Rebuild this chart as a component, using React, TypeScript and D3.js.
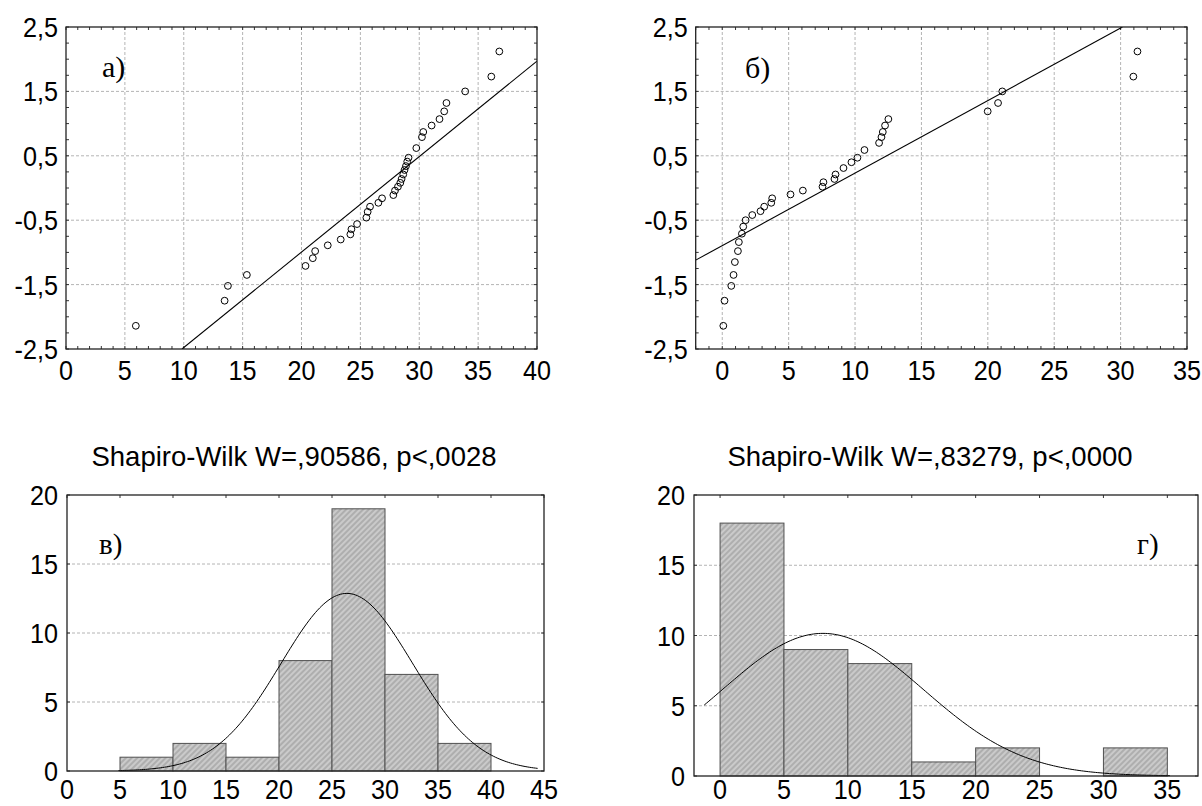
import React from 'react';
import * as d3 from 'd3';

// ---- Data: normal probability plot а) ----
const qqAValues = [5.93, 13.47, 13.75, 15.36, 20.34, 20.96, 21.16, 22.23, 23.33, 24.15, 24.24, 24.72, 25.51, 25.62, 25.82, 26.53, 26.84, 27.8, 27.94, 28.19, 28.39, 28.5, 28.64, 28.75, 28.87, 28.98, 29.09, 29.75, 30.23, 30.34, 31.05, 31.72, 32.12, 32.31, 33.9, 36.12, 36.8];
const qqAScores = [-2.14, -1.75, -1.52, -1.35, -1.21, -1.09, -0.98, -0.89, -0.8, -0.72, -0.64, -0.56, -0.46, -0.37, -0.29, -0.23, -0.16, -0.11, -0.04, 0.02, 0.08, 0.14, 0.21, 0.28, 0.34, 0.41, 0.47, 0.62, 0.79, 0.87, 0.97, 1.07, 1.19, 1.32, 1.5, 1.73, 2.12];
const qqALine = [[9.85, -2.5], [40, 1.97]];

// ---- Data: normal probability plot б) ----
const qqBValues = [0.08, 0.17, 0.68, 0.85, 0.95, 1.18, 1.25, 1.48, 1.58, 1.76, 2.26, 2.88, 3.16, 3.69, 3.76, 5.14, 6.07, 7.55, 7.62, 8.45, 8.53, 9.13, 9.73, 10.18, 10.71, 11.81, 11.99, 12.09, 12.26, 12.51, 19.99, 20.77, 21.09, 30.96, 31.27];
const qqBScores = [-2.14, -1.75, -1.52, -1.35, -1.15, -0.98, -0.84, -0.71, -0.6, -0.5, -0.42, -0.36, -0.29, -0.23, -0.16, -0.1, -0.04, 0.02, 0.09, 0.14, 0.21, 0.31, 0.4, 0.47, 0.59, 0.7, 0.79, 0.87, 0.97, 1.07, 1.19, 1.32, 1.5, 1.73, 2.12];
const qqBLine = [[-2, -1.12], [30.14, 2.5]];

// ---- Data: histograms ----
const histCBins = [5, 10, 15, 20, 25, 30, 35];
const histCCounts = [1, 2, 1, 8, 19, 7, 2];
const histCFit = { mean: 26.4, sd: 6.2, n: 40, width: 5, from: 4.85, to: 44.4 };
const histCTitle = 'Shapiro-Wilk W=,90586, p<,0028';

const histDBins = [0, 5, 10, 15, 20, 25, 30];
const histDCounts = [18, 9, 8, 1, 2, 0, 2];
const histDFit = { mean: 8.05, sd: 7.86, n: 40, width: 5, from: -1.24, to: 35.2 };
const histDTitle = 'Shapiro-Wilk W=,83279, p<,0000';

// ---- Tick values ----
const qqYTicks = [-2.5, -1.5, -0.5, 0.5, 1.5, 2.5];
const qqAXTicks = [0, 5, 10, 15, 20, 25, 30, 35, 40];
const qqBXTicks = [0, 5, 10, 15, 20, 25, 30, 35];
const histYTicks = [0, 5, 10, 15, 20];
const histCXTicks = [0, 5, 10, 15, 20, 25, 30, 35, 40, 45];
const histDXTicks = [0, 5, 10, 15, 20, 25, 30, 35];

const SANS = "'Liberation Sans', Arial, sans-serif";
const SERIF = "'Liberation Serif', 'Times New Roman', serif";
const fmtComma = (v: number) => (Number.isInteger(v) ? String(v) : v.toFixed(1).replace('.', ','));

function TickText({ x, y, anchor, text, size = 28 }: any) {
  return (
    <text
      transform={`translate(${x},${y}) scale(0.9,1)`}
      textAnchor={anchor}
      fontFamily={SANS}
      fontSize={size}
      fill="#000"
    >
      {text}
    </text>
  );
}

function QQPanel({ id, xDomain, xRange, values, scores, line, xTicks, label, labelPos }: any) {
  const x = d3.scaleLinear().domain(xDomain).range(xRange);
  const y = d3.scaleLinear().domain([-2.5, 2.5]).range([349, 27]);
  const [x0, x1] = xRange;
  const [yb, yt] = [349, 27];
  const minorX = d3.range(Math.ceil(xDomain[0]), Math.floor(xDomain[1]) + 1);
  const minorY = d3.range(-2.5, 2.5001, 0.25);
  const lineGen = d3.line<number[]>().x((d) => x(d[0])).y((d) => y(d[1]));
  return (
    <g>
      <clipPath id={id}>
        <rect x={x0} y={yt} width={x1 - x0} height={yb - yt} />
      </clipPath>
      {xTicks.filter((t: number) => x(t) > x0 + 1 && x(t) < x1 - 1).map((t: number) => (
        <line key={'gx' + t} x1={x(t)} x2={x(t)} y1={yt} y2={yb} stroke="#b4b4b4" strokeDasharray="3,2" />
      ))}
      {qqYTicks.filter((t) => t > -2.5 && t < 2.5).map((t) => (
        <line key={'gy' + t} x1={x0} x2={x1} y1={y(t)} y2={y(t)} stroke="#b4b4b4" strokeDasharray="3,2" />
      ))}
      {minorX.map((t: number) => (
        <g key={'mx' + t}>
          <line x1={x(t)} x2={x(t)} y1={yb} y2={yb - 3} stroke="#333" />
          <line x1={x(t)} x2={x(t)} y1={yt} y2={yt + 3} stroke="#333" />
        </g>
      ))}
      {minorY.map((t: number) => (
        <g key={'my' + t}>
          <line x1={x0} x2={x0 + 3} y1={y(t)} y2={y(t)} stroke="#333" />
          <line x1={x1} x2={x1 - 3} y1={y(t)} y2={y(t)} stroke="#333" />
        </g>
      ))}
      <path d={lineGen(line) || ''} stroke="#000" strokeWidth={1.1} fill="none" clipPath={`url(#${id})`} />
      {values.map((v: number, i: number) => (
        <circle key={'p' + i} cx={x(v)} cy={y(scores[i])} r={3.4} fill="none" stroke="#000" strokeWidth={1} />
      ))}
      <rect x={x0} y={yt} width={x1 - x0} height={yb - yt} fill="none" stroke="#222" strokeWidth={1.3} />
      {qqYTicks.map((t) => (
        <TickText key={'yl' + t} x={x0 - 8} y={y(t) + 10} anchor="end" text={fmtComma(t)} />
      ))}
      {xTicks.map((t: number) => (
        <TickText key={'xl' + t} x={x(t)} y={380} anchor="middle" text={fmtComma(t)} />
      ))}
      <text x={labelPos[0]} y={labelPos[1]} fontFamily={SERIF} fontSize={30}>{label}</text>
    </g>
  );
}

function HistPanel({ xDomain, xRange, yRange, bins, counts, fit, xTicks, title, titleX, label, labelPos, labelBaseline }: any) {
  const x = d3.scaleLinear().domain(xDomain).range(xRange);
  const y = d3.scaleLinear().domain([0, 20]).range(yRange);
  const [x0, x1] = xRange;
  const [yb, yt] = yRange;
  const peak = (fit.n * fit.width) / (fit.sd * Math.sqrt(2 * Math.PI));
  const curvePts = d3.range(0, 201).map((i) => {
    const xv = fit.from + ((fit.to - fit.from) * i) / 200;
    const z = (xv - fit.mean) / fit.sd;
    return [xv, peak * Math.exp(-0.5 * z * z)];
  });
  const curve = d3.line<number[]>().x((d) => x(d[0])).y((d) => y(d[1])).curve(d3.curveLinear);
  return (
    <g>
      {histYTicks.filter((t) => t > 0 && t < 20).map((t) => (
        <line key={'gy' + t} x1={x0} x2={x1} y1={y(t)} y2={y(t)} stroke="#b4b4b4" strokeDasharray="3,2" />
      ))}
      {xTicks.map((t: number) => (
        <line key={'tx' + t} x1={x(t)} x2={x(t)} y1={yt} y2={yt + 3} stroke="#333" />
      ))}
      {histYTicks.map((t) => (
        <g key={'ty' + t}>
          <line x1={x1} x2={x1 - 3} y1={y(t)} y2={y(t)} stroke="#333" />
          <line x1={x0} x2={x0 + 3} y1={y(t)} y2={y(t)} stroke="#333" />
        </g>
      ))}
      {bins.map((b: number, i: number) =>
        counts[i] > 0 ? (
          <rect
            key={'b' + i}
            x={x(b)}
            y={y(counts[i])}
            width={x(b + 5) - x(b)}
            height={yb - y(counts[i])}
            fill="url(#hatch)"
            stroke="#505050"
            strokeWidth={1}
          />
        ) : null
      )}
      <path d={curve(curvePts) || ''} stroke="#000" strokeWidth={1} fill="none" />
      <rect x={x0} y={yt} width={x1 - x0} height={yb - yt} fill="none" stroke="#222" strokeWidth={1.3} />
      {histYTicks.map((t) => (
        <TickText key={'yl' + t} x={x0 - 9} y={y(t) + 10} anchor="end" text={String(t)} />
      ))}
      {xTicks.map((t: number) => (
        <TickText key={'xl' + t} x={x(t)} y={labelBaseline} anchor="middle" text={String(t)} />
      ))}
      <text x={titleX} y={466} textAnchor="middle" fontFamily={SANS} fontSize={27.5}>{title}</text>
      <text x={labelPos[0]} y={labelPos[1]} fontFamily={SERIF} fontSize={29}>{label}</text>
    </g>
  );
}

export default function App() {
  return (
    <svg
      width={1202}
      height={806}
      style={{ position: 'absolute', left: 0, top: 0, background: '#fff' }}
    >
      <defs>
        <pattern id="hatch" width={4} height={4} patternUnits="userSpaceOnUse" patternTransform="rotate(45)">
          <rect width={4} height={4} fill="#cacaca" />
          <line x1={1} y1={0} x2={1} y2={4} stroke="#a2a2a2" strokeWidth={1.4} />
        </pattern>
      </defs>
      <rect width={1202} height={806} fill="#fff" />
      <QQPanel
        id="clipA"
        xDomain={[0, 40]}
        xRange={[66, 537]}
        values={qqAValues}
        scores={qqAScores}
        line={qqALine}
        xTicks={qqAXTicks}
        label="а)"
        labelPos={[102, 77]}
      />
      <QQPanel
        id="clipB"
        xDomain={[-2, 35]}
        xRange={[695.7, 1187]}
        values={qqBValues}
        scores={qqBScores}
        line={qqBLine}
        xTicks={qqBXTicks}
        label="б)"
        labelPos={[745, 78]}
      />
      <HistPanel
        xDomain={[0, 45]}
        xRange={[67, 544]}
        yRange={[771, 495]}
        bins={histCBins}
        counts={histCCounts}
        fit={histCFit}
        xTicks={histCXTicks}
        title={histCTitle}
        titleX={294}
        label="в)"
        labelPos={[99, 554]}
        labelBaseline={799}
      />
      <HistPanel
        xDomain={[-2.04, 37.4]}
        xRange={[694, 1198]}
        yRange={[776, 495]}
        bins={histDBins}
        counts={histDCounts}
        fit={histDFit}
        xTicks={histDXTicks}
        title={histDTitle}
        titleX={930}
        label="г)"
        labelPos={[1137, 554]}
        labelBaseline={799}
      />
    </svg>
  );
}
